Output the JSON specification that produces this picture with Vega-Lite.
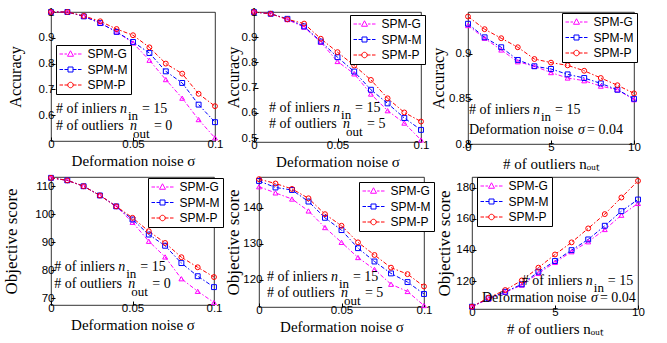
{
  "$schema": "https://vega.github.io/schema/vega-lite/v6.json",
  "padding": {"left": 2, "top": 5, "right": 2, "bottom": 2},
  "background": "white",
  "config": {
    "view": {"stroke": "black", "strokeWidth": 0.8},
    "axis": {"grid": false, "domain": false, "tickColor": "black", "tickSize": -4, "labelPadding": 1, "labelFont": "Liberation Sans", "labelFontSize": 11.5, "labelColor": "black", "titleFont": "Liberation Serif", "titleFontWeight": "normal", "titleColor": "black", "titleFontSize": 15, "labelFlush": false, "labelOverlap": false, "labelBound": false},
    "axisX": {"titlePadding": 4},
    "legend": {"symbolSize": 100, "rowPadding": 3.5, "symbolOffset": 5.5, "labelOffset": 11, "padding": 3, "labelFont": "Liberation Sans", "labelFontSize": 12, "labelColor": "black", "strokeColor": "black", "fillColor": "white", "cornerRadius": 0},
    "text": {"font": "Liberation Serif", "fontSize": 14, "align": "left", "baseline": "alphabetic", "color": "black"}
  },
  "datasets": {
    "one": [{}],
    "acc0": [
      {"x":0,"m":"SPM-G","v":1.0},{"x":0.01,"m":"SPM-G","v":1.0},{"x":0.02,"m":"SPM-G","v":0.983},{"x":0.03,"m":"SPM-G","v":0.957},{"x":0.04,"m":"SPM-G","v":0.923},{"x":0.05,"m":"SPM-G","v":0.88},{"x":0.06,"m":"SPM-G","v":0.813},{"x":0.07,"m":"SPM-G","v":0.738},{"x":0.08,"m":"SPM-G","v":0.666},{"x":0.09,"m":"SPM-G","v":0.583},{"x":0.1,"m":"SPM-G","v":0.512},
      {"x":0,"m":"SPM-M","v":1.0},{"x":0.01,"m":"SPM-M","v":1.0},{"x":0.02,"m":"SPM-M","v":0.983},{"x":0.03,"m":"SPM-M","v":0.957},{"x":0.04,"m":"SPM-M","v":0.923},{"x":0.05,"m":"SPM-M","v":0.884},{"x":0.06,"m":"SPM-M","v":0.841},{"x":0.07,"m":"SPM-M","v":0.77},{"x":0.08,"m":"SPM-M","v":0.725},{"x":0.09,"m":"SPM-M","v":0.641},{"x":0.1,"m":"SPM-M","v":0.573},
      {"x":0,"m":"SPM-P","v":1.0},{"x":0.01,"m":"SPM-P","v":1.0},{"x":0.02,"m":"SPM-P","v":0.985},{"x":0.03,"m":"SPM-P","v":0.964},{"x":0.04,"m":"SPM-P","v":0.934},{"x":0.05,"m":"SPM-P","v":0.91},{"x":0.06,"m":"SPM-P","v":0.863},{"x":0.07,"m":"SPM-P","v":0.8},{"x":0.08,"m":"SPM-P","v":0.761},{"x":0.09,"m":"SPM-P","v":0.683},{"x":0.1,"m":"SPM-P","v":0.635}
    ],
    "acc5": [
      {"x":0,"m":"SPM-G","v":1.0},{"x":0.01,"m":"SPM-G","v":0.993},{"x":0.02,"m":"SPM-G","v":0.97},{"x":0.03,"m":"SPM-G","v":0.94},{"x":0.04,"m":"SPM-G","v":0.88},{"x":0.05,"m":"SPM-G","v":0.804},{"x":0.06,"m":"SPM-G","v":0.755},{"x":0.07,"m":"SPM-G","v":0.675},{"x":0.08,"m":"SPM-G","v":0.609},{"x":0.09,"m":"SPM-G","v":0.56},{"x":0.1,"m":"SPM-G","v":0.493},
      {"x":0,"m":"SPM-M","v":1.0},{"x":0.01,"m":"SPM-M","v":0.993},{"x":0.02,"m":"SPM-M","v":0.973},{"x":0.03,"m":"SPM-M","v":0.943},{"x":0.04,"m":"SPM-M","v":0.883},{"x":0.05,"m":"SPM-M","v":0.821},{"x":0.06,"m":"SPM-M","v":0.764},{"x":0.07,"m":"SPM-M","v":0.692},{"x":0.08,"m":"SPM-M","v":0.638},{"x":0.09,"m":"SPM-M","v":0.58},{"x":0.1,"m":"SPM-M","v":0.533},
      {"x":0,"m":"SPM-P","v":1.0},{"x":0.01,"m":"SPM-P","v":0.993},{"x":0.02,"m":"SPM-P","v":0.971},{"x":0.03,"m":"SPM-P","v":0.954},{"x":0.04,"m":"SPM-P","v":0.894},{"x":0.05,"m":"SPM-P","v":0.841},{"x":0.06,"m":"SPM-P","v":0.788},{"x":0.07,"m":"SPM-P","v":0.731},{"x":0.08,"m":"SPM-P","v":0.658},{"x":0.09,"m":"SPM-P","v":0.602},{"x":0.1,"m":"SPM-P","v":0.566}
    ],
    "accOut": [
      {"x":0,"m":"SPM-G","v":0.931},{"x":1,"m":"SPM-G","v":0.917},{"x":2,"m":"SPM-G","v":0.904},{"x":3,"m":"SPM-G","v":0.891},{"x":4,"m":"SPM-G","v":0.886},{"x":5,"m":"SPM-G","v":0.879},{"x":6,"m":"SPM-G","v":0.873},{"x":7,"m":"SPM-G","v":0.870},{"x":8,"m":"SPM-G","v":0.864},{"x":9,"m":"SPM-G","v":0.860},{"x":10,"m":"SPM-G","v":0.849},
      {"x":0,"m":"SPM-M","v":0.933},{"x":1,"m":"SPM-M","v":0.918},{"x":2,"m":"SPM-M","v":0.907},{"x":3,"m":"SPM-M","v":0.893},{"x":4,"m":"SPM-M","v":0.886},{"x":5,"m":"SPM-M","v":0.883},{"x":6,"m":"SPM-M","v":0.877},{"x":7,"m":"SPM-M","v":0.873},{"x":8,"m":"SPM-M","v":0.867},{"x":9,"m":"SPM-M","v":0.860},{"x":10,"m":"SPM-M","v":0.850},
      {"x":0,"m":"SPM-P","v":0.941},{"x":1,"m":"SPM-P","v":0.927},{"x":2,"m":"SPM-P","v":0.917},{"x":3,"m":"SPM-P","v":0.907},{"x":4,"m":"SPM-P","v":0.894},{"x":5,"m":"SPM-P","v":0.890},{"x":6,"m":"SPM-P","v":0.887},{"x":7,"m":"SPM-P","v":0.881},{"x":8,"m":"SPM-P","v":0.873},{"x":9,"m":"SPM-P","v":0.865},{"x":10,"m":"SPM-P","v":0.856}
    ],
    "obj0": [
      {"x":0,"m":"SPM-G","v":113},{"x":0.01,"m":"SPM-G","v":112.1},{"x":0.02,"m":"SPM-G","v":110},{"x":0.03,"m":"SPM-G","v":106.7},{"x":0.04,"m":"SPM-G","v":102.8},{"x":0.05,"m":"SPM-G","v":97.1},{"x":0.06,"m":"SPM-G","v":90.3},{"x":0.07,"m":"SPM-G","v":84.7},{"x":0.08,"m":"SPM-G","v":76.9},{"x":0.09,"m":"SPM-G","v":72.4},{"x":0.1,"m":"SPM-G","v":68.4},
      {"x":0,"m":"SPM-M","v":113},{"x":0.01,"m":"SPM-M","v":112.1},{"x":0.02,"m":"SPM-M","v":110},{"x":0.03,"m":"SPM-M","v":106.7},{"x":0.04,"m":"SPM-M","v":102.8},{"x":0.05,"m":"SPM-M","v":98.1},{"x":0.06,"m":"SPM-M","v":92.7},{"x":0.07,"m":"SPM-M","v":88.7},{"x":0.08,"m":"SPM-M","v":82.5},{"x":0.09,"m":"SPM-M","v":77.8},{"x":0.1,"m":"SPM-M","v":73.9},
      {"x":0,"m":"SPM-P","v":113},{"x":0.01,"m":"SPM-P","v":112.1},{"x":0.02,"m":"SPM-P","v":110},{"x":0.03,"m":"SPM-P","v":106.7},{"x":0.04,"m":"SPM-P","v":102.8},{"x":0.05,"m":"SPM-P","v":98.7},{"x":0.06,"m":"SPM-P","v":93.9},{"x":0.07,"m":"SPM-P","v":89.7},{"x":0.08,"m":"SPM-P","v":84.6},{"x":0.09,"m":"SPM-P","v":81.0},{"x":0.1,"m":"SPM-P","v":77.5}
    ],
    "obj5": [
      {"x":0,"m":"SPM-G","v":145.8},{"x":0.01,"m":"SPM-G","v":144.1},{"x":0.02,"m":"SPM-G","v":142.4},{"x":0.03,"m":"SPM-G","v":139.1},{"x":0.04,"m":"SPM-G","v":134.5},{"x":0.05,"m":"SPM-G","v":130.4},{"x":0.06,"m":"SPM-G","v":126.2},{"x":0.07,"m":"SPM-G","v":122.9},{"x":0.08,"m":"SPM-G","v":118.8},{"x":0.09,"m":"SPM-G","v":116.8},{"x":0.1,"m":"SPM-G","v":112.9},
      {"x":0,"m":"SPM-M","v":147.4},{"x":0.01,"m":"SPM-M","v":145.6},{"x":0.02,"m":"SPM-M","v":144.9},{"x":0.03,"m":"SPM-M","v":141.7},{"x":0.04,"m":"SPM-M","v":137.2},{"x":0.05,"m":"SPM-M","v":133.8},{"x":0.06,"m":"SPM-M","v":128.8},{"x":0.07,"m":"SPM-M","v":125.1},{"x":0.08,"m":"SPM-M","v":121.8},{"x":0.09,"m":"SPM-M","v":119.4},{"x":0.1,"m":"SPM-M","v":116.1},
      {"x":0,"m":"SPM-P","v":147.9},{"x":0.01,"m":"SPM-P","v":146.7},{"x":0.02,"m":"SPM-P","v":145.2},{"x":0.03,"m":"SPM-P","v":142.6},{"x":0.04,"m":"SPM-P","v":138.2},{"x":0.05,"m":"SPM-P","v":135.0},{"x":0.06,"m":"SPM-P","v":130.4},{"x":0.07,"m":"SPM-P","v":126.9},{"x":0.08,"m":"SPM-P","v":123.4},{"x":0.09,"m":"SPM-P","v":121.6},{"x":0.1,"m":"SPM-P","v":118.2}
    ],
    "objOut": [
      {"x":0,"m":"SPM-G","v":103.5},{"x":1,"m":"SPM-G","v":108.4},{"x":2,"m":"SPM-G","v":112.7},{"x":3,"m":"SPM-G","v":117.4},{"x":4,"m":"SPM-G","v":124.9},{"x":5,"m":"SPM-G","v":132.0},{"x":6,"m":"SPM-G","v":138.9},{"x":7,"m":"SPM-G","v":145.3},{"x":8,"m":"SPM-G","v":153.2},{"x":9,"m":"SPM-G","v":162.4},{"x":10,"m":"SPM-G","v":170.0},
      {"x":0,"m":"SPM-M","v":103.5},{"x":1,"m":"SPM-M","v":108.9},{"x":2,"m":"SPM-M","v":113.1},{"x":3,"m":"SPM-M","v":117.9},{"x":4,"m":"SPM-M","v":126.0},{"x":5,"m":"SPM-M","v":132.9},{"x":6,"m":"SPM-M","v":139.9},{"x":7,"m":"SPM-M","v":146.8},{"x":8,"m":"SPM-M","v":155.6},{"x":9,"m":"SPM-M","v":165.0},{"x":10,"m":"SPM-M","v":172.5},
      {"x":0,"m":"SPM-P","v":103.5},{"x":1,"m":"SPM-P","v":109.3},{"x":2,"m":"SPM-P","v":114.2},{"x":3,"m":"SPM-P","v":120.4},{"x":4,"m":"SPM-P","v":128.6},{"x":5,"m":"SPM-P","v":137.1},{"x":6,"m":"SPM-P","v":144.9},{"x":7,"m":"SPM-P","v":153.9},{"x":8,"m":"SPM-P","v":163.1},{"x":9,"m":"SPM-P","v":173.8},{"x":10,"m":"SPM-P","v":184.5}
    ]
  },
  "spacing": 0,
  "resolve": {"scale": {"x": "independent", "y": "independent", "color": "independent"}, "legend": {"color": "independent"}},
  "vconcat": [
    {
      "spacing": 0,
      "resolve": {"scale": {"x": "independent", "y": "independent", "color": "independent"}, "legend": {"color": "independent"}},
      "hconcat": [
        {
          "width": 164, "height": 129,
          "data": {"name": "acc0"},
          "layer": [
            {"mark": {"type": "line", "strokeWidth": 1, "strokeDash": [4, 2, 1.5, 2]},
             "encoding": {
               "x": {"field": "x", "type": "quantitative", "scale": {"domain": [0, 0.1], "nice": false, "zero": false}, "axis": {"title": "Deformation noise σ", "values": [0, 0.05, 0.1], "tickCount": 20, "labelExpr": "'' + datum.value", "labelOverlap": false}},
               "y": {"field": "v", "type": "quantitative", "scale": {"domain": [0.5, 1], "nice": false, "zero": false}, "axis": {"title": "Accuracy", "titleFontSize": 16, "titlePadding": 15, "values": [0.6, 0.7, 0.8, 0.9, 1], "tickCount": 20, "labelExpr": "'' + datum.value", "labelOverlap": false}},
               "color": {"field": "m", "type": "nominal", "scale": {"domain": ["SPM-G", "SPM-M", "SPM-P"], "range": ["#FF00FF", "#0000FF", "#FF0000"]},
                 "legend": {"orient": "none", "legendX": 5, "legendY": 33, "title": null, "encode": {"symbols": {"update": {"shape": {"signal": "datum.value==='SPM-G'?'M-2.2,0H-1.5M-1.2,0H-0.7M0.7,0H1.2M1.5,0H2.2M0,-0.65L0.6,0.45H-0.6Z':datum.value==='SPM-M'?'M-2.2,0H-1.5M-1.2,0H-0.5M0.5,0H1.2M1.5,0H2.2M-0.5,-0.5H0.5V0.5H-0.5Z':'M-2.2,0H-1.5M-1.2,0H-0.55M0.55,0H1.2M1.5,0H2.2M-0.55,0A0.55,0.55,0,1,0,0.55,0A0.55,0.55,0,1,0,-0.55,0'"}, "size": {"value": 100}, "fill": {"value": "transparent"}, "strokeWidth": {"value": 1}, "strokeDash": {"value": []}}}}}}
             }},
            {"transform": [{"filter": "datum.m === 'SPM-G'"}], "mark": {"type": "point", "shape": "triangle-up", "filled": false, "size": 24, "strokeWidth": 1, "opacity": 1, "color": "#FF00FF"}, "encoding": {"x": {"field": "x", "type": "quantitative"}, "y": {"field": "v", "type": "quantitative"}}},
            {"transform": [{"filter": "datum.m === 'SPM-M'"}], "mark": {"type": "point", "shape": "square", "filled": false, "size": 24, "strokeWidth": 1, "opacity": 1, "color": "#0000FF"}, "encoding": {"x": {"field": "x", "type": "quantitative"}, "y": {"field": "v", "type": "quantitative"}}},
            {"transform": [{"filter": "datum.m === 'SPM-P'"}], "mark": {"type": "point", "shape": "circle", "filled": false, "size": 24, "strokeWidth": 1, "opacity": 1, "color": "#FF0000"}, "encoding": {"x": {"field": "x", "type": "quantitative"}, "y": {"field": "v", "type": "quantitative"}}},
            {"data": {"name": "one"}, "mark": {"type": "text", "text": "# of inliers"}, "encoding": {"x": {"datum": 0.003}, "y": {"datum": 0.6085}}},
            {"data": {"name": "one"}, "mark": {"type": "text", "text": "n", "fontStyle": "italic", "dx": 64}, "encoding": {"x": {"datum": 0.003}, "y": {"datum": 0.6085}}},
            {"data": {"name": "one"}, "mark": {"type": "text", "text": "in", "fontSize": 13, "dx": 72, "dy": 7}, "encoding": {"x": {"datum": 0.003}, "y": {"datum": 0.6085}}},
            {"data": {"name": "one"}, "mark": {"type": "text", "text": "= 15", "dx": 86}, "encoding": {"x": {"datum": 0.003}, "y": {"datum": 0.6085}}},
            {"data": {"name": "one"}, "mark": {"type": "text", "text": "# of outliers"}, "encoding": {"x": {"datum": 0.003}, "y": {"datum": 0.543}}},
            {"data": {"name": "one"}, "mark": {"type": "text", "text": "n", "fontStyle": "italic", "dx": 74}, "encoding": {"x": {"datum": 0.003}, "y": {"datum": 0.543}}},
            {"data": {"name": "one"}, "mark": {"type": "text", "text": "out", "fontSize": 13, "dx": 77, "dy": 8}, "encoding": {"x": {"datum": 0.003}, "y": {"datum": 0.543}}},
            {"data": {"name": "one"}, "mark": {"type": "text", "text": "= 0", "dx": 98}, "encoding": {"x": {"datum": 0.003}, "y": {"datum": 0.543}}}
          ]
        },
        {
          "width": 167, "height": 130,
          "data": {"name": "acc5"},
          "layer": [
            {"mark": {"type": "line", "strokeWidth": 1, "strokeDash": [4, 2, 1.5, 2]},
             "encoding": {
               "x": {"field": "x", "type": "quantitative", "scale": {"domain": [0, 0.1], "nice": false, "zero": false}, "axis": {"title": "Deformation noise σ", "values": [0, 0.05, 0.1], "tickCount": 20, "labelExpr": "'' + datum.value", "labelOverlap": false}},
               "y": {"field": "v", "type": "quantitative", "scale": {"domain": [0.485, 1], "nice": false, "zero": false}, "axis": {"title": "Accuracy", "titleFontSize": 16, "titlePadding": 0, "values": [0.5, 0.6, 0.7, 0.8, 0.9, 1], "tickCount": 20, "labelExpr": "'' + datum.value", "labelOverlap": false}},
               "color": {"field": "m", "type": "nominal", "scale": {"domain": ["SPM-G", "SPM-M", "SPM-P"], "range": ["#FF00FF", "#0000FF", "#FF0000"]},
                 "legend": {"orient": "none", "legendX": 96, "legendY": 3, "title": null, "encode": {"symbols": {"update": {"shape": {"signal": "datum.value==='SPM-G'?'M-2.2,0H-1.5M-1.2,0H-0.7M0.7,0H1.2M1.5,0H2.2M0,-0.65L0.6,0.45H-0.6Z':datum.value==='SPM-M'?'M-2.2,0H-1.5M-1.2,0H-0.5M0.5,0H1.2M1.5,0H2.2M-0.5,-0.5H0.5V0.5H-0.5Z':'M-2.2,0H-1.5M-1.2,0H-0.55M0.55,0H1.2M1.5,0H2.2M-0.55,0A0.55,0.55,0,1,0,0.55,0A0.55,0.55,0,1,0,-0.55,0'"}, "size": {"value": 100}, "fill": {"value": "transparent"}, "strokeWidth": {"value": 1}, "strokeDash": {"value": []}}}}}}
             }},
            {"transform": [{"filter": "datum.m === 'SPM-G'"}], "mark": {"type": "point", "shape": "triangle-up", "filled": false, "size": 24, "strokeWidth": 1, "opacity": 1, "color": "#FF00FF"}, "encoding": {"x": {"field": "x", "type": "quantitative"}, "y": {"field": "v", "type": "quantitative"}}},
            {"transform": [{"filter": "datum.m === 'SPM-M'"}], "mark": {"type": "point", "shape": "square", "filled": false, "size": 24, "strokeWidth": 1, "opacity": 1, "color": "#0000FF"}, "encoding": {"x": {"field": "x", "type": "quantitative"}, "y": {"field": "v", "type": "quantitative"}}},
            {"transform": [{"filter": "datum.m === 'SPM-P'"}], "mark": {"type": "point", "shape": "circle", "filled": false, "size": 24, "strokeWidth": 1, "opacity": 1, "color": "#FF0000"}, "encoding": {"x": {"field": "x", "type": "quantitative"}, "y": {"field": "v", "type": "quantitative"}}},
            {"data": {"name": "one"}, "mark": {"type": "text", "text": "# of inliers"}, "encoding": {"x": {"datum": 0.009}, "y": {"datum": 0.604}}},
            {"data": {"name": "one"}, "mark": {"type": "text", "text": "n", "fontStyle": "italic", "dx": 64}, "encoding": {"x": {"datum": 0.009}, "y": {"datum": 0.604}}},
            {"data": {"name": "one"}, "mark": {"type": "text", "text": "in", "fontSize": 13, "dx": 72, "dy": 7}, "encoding": {"x": {"datum": 0.009}, "y": {"datum": 0.604}}},
            {"data": {"name": "one"}, "mark": {"type": "text", "text": "= 15", "dx": 86}, "encoding": {"x": {"datum": 0.009}, "y": {"datum": 0.604}}},
            {"data": {"name": "one"}, "mark": {"type": "text", "text": "# of outliers"}, "encoding": {"x": {"datum": 0.009}, "y": {"datum": 0.54}}},
            {"data": {"name": "one"}, "mark": {"type": "text", "text": "n", "fontStyle": "italic", "dx": 74}, "encoding": {"x": {"datum": 0.009}, "y": {"datum": 0.54}}},
            {"data": {"name": "one"}, "mark": {"type": "text", "text": "out", "fontSize": 13, "dx": 77, "dy": 8}, "encoding": {"x": {"datum": 0.009}, "y": {"datum": 0.54}}},
            {"data": {"name": "one"}, "mark": {"type": "text", "text": "= 5", "dx": 98}, "encoding": {"x": {"datum": 0.009}, "y": {"datum": 0.54}}}
          ]
        },
        {
          "width": 166, "height": 132,
          "data": {"name": "accOut"},
          "layer": [
            {"mark": {"type": "line", "strokeWidth": 1, "strokeDash": [4, 2, 1.5, 2]},
             "encoding": {
               "x": {"field": "x", "type": "quantitative", "scale": {"domain": [0, 10], "nice": false, "zero": false}, "axis": {"title": "# of outliers nₒᵤₜ", "values": [0, 5, 10], "tickCount": 20, "labelExpr": "'' + datum.value", "labelOverlap": false}},
               "y": {"field": "v", "type": "quantitative", "scale": {"domain": [0.8, 0.946], "nice": false, "zero": false}, "axis": {"title": "Accuracy", "titleFontSize": 16, "titlePadding": 2, "values": [0.8, 0.85, 0.9], "tickCount": 20, "labelExpr": "'' + datum.value", "labelOverlap": false}},
               "color": {"field": "m", "type": "nominal", "scale": {"domain": ["SPM-G", "SPM-M", "SPM-P"], "range": ["#FF00FF", "#0000FF", "#FF0000"]},
                 "legend": {"orient": "none", "legendX": 94, "legendY": 1, "title": null, "encode": {"symbols": {"update": {"shape": {"signal": "datum.value==='SPM-G'?'M-2.2,0H-1.5M-1.2,0H-0.7M0.7,0H1.2M1.5,0H2.2M0,-0.65L0.6,0.45H-0.6Z':datum.value==='SPM-M'?'M-2.2,0H-1.5M-1.2,0H-0.5M0.5,0H1.2M1.5,0H2.2M-0.5,-0.5H0.5V0.5H-0.5Z':'M-2.2,0H-1.5M-1.2,0H-0.55M0.55,0H1.2M1.5,0H2.2M-0.55,0A0.55,0.55,0,1,0,0.55,0A0.55,0.55,0,1,0,-0.55,0'"}, "size": {"value": 100}, "fill": {"value": "transparent"}, "strokeWidth": {"value": 1}, "strokeDash": {"value": []}}}}}}
             }},
            {"transform": [{"filter": "datum.m === 'SPM-G'"}], "mark": {"type": "point", "shape": "triangle-up", "filled": false, "size": 24, "strokeWidth": 1, "opacity": 1, "color": "#FF00FF"}, "encoding": {"x": {"field": "x", "type": "quantitative"}, "y": {"field": "v", "type": "quantitative"}}},
            {"transform": [{"filter": "datum.m === 'SPM-M'"}], "mark": {"type": "point", "shape": "square", "filled": false, "size": 24, "strokeWidth": 1, "opacity": 1, "color": "#0000FF"}, "encoding": {"x": {"field": "x", "type": "quantitative"}, "y": {"field": "v", "type": "quantitative"}}},
            {"transform": [{"filter": "datum.m === 'SPM-P'"}], "mark": {"type": "point", "shape": "circle", "filled": false, "size": 24, "strokeWidth": 1, "opacity": 1, "color": "#FF0000"}, "encoding": {"x": {"field": "x", "type": "quantitative"}, "y": {"field": "v", "type": "quantitative"}}},
            {"data": {"name": "one"}, "mark": {"type": "text", "text": "# of inliers"}, "encoding": {"x": {"datum": 0.06}, "y": {"datum": 0.8332}}},
            {"data": {"name": "one"}, "mark": {"type": "text", "text": "n", "fontStyle": "italic", "dx": 64}, "encoding": {"x": {"datum": 0.06}, "y": {"datum": 0.8332}}},
            {"data": {"name": "one"}, "mark": {"type": "text", "text": "in", "fontSize": 13, "dx": 72, "dy": 7}, "encoding": {"x": {"datum": 0.06}, "y": {"datum": 0.8332}}},
            {"data": {"name": "one"}, "mark": {"type": "text", "text": "= 15", "dx": 86}, "encoding": {"x": {"datum": 0.06}, "y": {"datum": 0.8332}}},
            {"data": {"name": "one"}, "mark": {"type": "text", "text": "Deformation noise"}, "encoding": {"x": {"datum": 0.06}, "y": {"datum": 0.811}}},
            {"data": {"name": "one"}, "mark": {"type": "text", "text": "σ", "fontStyle": "italic", "dx": 109}, "encoding": {"x": {"datum": 0.06}, "y": {"datum": 0.811}}},
            {"data": {"name": "one"}, "mark": {"type": "text", "text": "= 0.04", "dx": 118}, "encoding": {"x": {"datum": 0.06}, "y": {"datum": 0.811}}}
          ]
        }
      ]
    },
    {
      "spacing": 0,
      "resolve": {"scale": {"x": "independent", "y": "independent", "color": "independent"}, "legend": {"color": "independent"}},
      "hconcat": [
        {
          "width": 163, "height": 128,
          "data": {"name": "obj0"},
          "layer": [
            {"mark": {"type": "line", "strokeWidth": 1, "strokeDash": [4, 2, 1.5, 2]},
             "encoding": {
               "x": {"field": "x", "type": "quantitative", "scale": {"domain": [0, 0.1], "nice": false, "zero": false}, "axis": {"title": "Deformation noise σ", "values": [0, 0.05, 0.1], "tickCount": 20, "labelExpr": "'' + datum.value", "labelOverlap": false}},
               "y": {"field": "v", "type": "quantitative", "scale": {"domain": [67.5, 113.3], "nice": false, "zero": false}, "axis": {"title": "Objective score", "titleFontSize": 17, "titlePadding": 14, "values": [70, 80, 90, 100, 110], "tickCount": 20, "labelExpr": "'' + datum.value", "labelOverlap": false}},
               "color": {"field": "m", "type": "nominal", "scale": {"domain": ["SPM-G", "SPM-M", "SPM-P"], "range": ["#FF00FF", "#0000FF", "#FF0000"]},
                 "legend": {"orient": "none", "legendX": 97, "legendY": 1, "title": null, "encode": {"symbols": {"update": {"shape": {"signal": "datum.value==='SPM-G'?'M-2.2,0H-1.5M-1.2,0H-0.7M0.7,0H1.2M1.5,0H2.2M0,-0.65L0.6,0.45H-0.6Z':datum.value==='SPM-M'?'M-2.2,0H-1.5M-1.2,0H-0.5M0.5,0H1.2M1.5,0H2.2M-0.5,-0.5H0.5V0.5H-0.5Z':'M-2.2,0H-1.5M-1.2,0H-0.55M0.55,0H1.2M1.5,0H2.2M-0.55,0A0.55,0.55,0,1,0,0.55,0A0.55,0.55,0,1,0,-0.55,0'"}, "size": {"value": 100}, "fill": {"value": "transparent"}, "strokeWidth": {"value": 1}, "strokeDash": {"value": []}}}}}}
             }},
            {"transform": [{"filter": "datum.m === 'SPM-G'"}], "mark": {"type": "point", "shape": "triangle-up", "filled": false, "size": 24, "strokeWidth": 1, "opacity": 1, "color": "#FF00FF"}, "encoding": {"x": {"field": "x", "type": "quantitative"}, "y": {"field": "v", "type": "quantitative"}}},
            {"transform": [{"filter": "datum.m === 'SPM-M'"}], "mark": {"type": "point", "shape": "square", "filled": false, "size": 24, "strokeWidth": 1, "opacity": 1, "color": "#0000FF"}, "encoding": {"x": {"field": "x", "type": "quantitative"}, "y": {"field": "v", "type": "quantitative"}}},
            {"transform": [{"filter": "datum.m === 'SPM-P'"}], "mark": {"type": "point", "shape": "circle", "filled": false, "size": 24, "strokeWidth": 1, "opacity": 1, "color": "#FF0000"}, "encoding": {"x": {"field": "x", "type": "quantitative"}, "y": {"field": "v", "type": "quantitative"}}},
            {"data": {"name": "one"}, "mark": {"type": "text", "text": "# of inliers"}, "encoding": {"x": {"datum": 0.002}, "y": {"datum": 79.6}}},
            {"data": {"name": "one"}, "mark": {"type": "text", "text": "n", "fontStyle": "italic", "dx": 64}, "encoding": {"x": {"datum": 0.002}, "y": {"datum": 79.6}}},
            {"data": {"name": "one"}, "mark": {"type": "text", "text": "in", "fontSize": 13, "dx": 72, "dy": 7}, "encoding": {"x": {"datum": 0.002}, "y": {"datum": 79.6}}},
            {"data": {"name": "one"}, "mark": {"type": "text", "text": "= 15", "dx": 86}, "encoding": {"x": {"datum": 0.002}, "y": {"datum": 79.6}}},
            {"data": {"name": "one"}, "mark": {"type": "text", "text": "# of outliers"}, "encoding": {"x": {"datum": 0.002}, "y": {"datum": 73.5}}},
            {"data": {"name": "one"}, "mark": {"type": "text", "text": "n", "fontStyle": "italic", "dx": 74}, "encoding": {"x": {"datum": 0.002}, "y": {"datum": 73.5}}},
            {"data": {"name": "one"}, "mark": {"type": "text", "text": "out", "fontSize": 13, "dx": 77, "dy": 8}, "encoding": {"x": {"datum": 0.002}, "y": {"datum": 73.5}}},
            {"data": {"name": "one"}, "mark": {"type": "text", "text": "= 0", "dx": 98}, "encoding": {"x": {"datum": 0.002}, "y": {"datum": 73.5}}}
          ]
        },
        {
          "width": 165, "height": 130,
          "data": {"name": "obj5"},
          "layer": [
            {"mark": {"type": "line", "strokeWidth": 1, "strokeDash": [4, 2, 1.5, 2]},
             "encoding": {
               "x": {"field": "x", "type": "quantitative", "scale": {"domain": [0, 0.1], "nice": false, "zero": false}, "axis": {"title": "Deformation noise σ", "values": [0, 0.05, 0.1], "tickCount": 20, "labelExpr": "'' + datum.value", "labelOverlap": false}},
               "y": {"field": "v", "type": "quantitative", "scale": {"domain": [112.5, 148.5], "nice": false, "zero": false}, "axis": {"title": "Objective score", "titleFontSize": 17, "titlePadding": 0, "values": [120, 130, 140], "tickCount": 20, "labelExpr": "'' + datum.value", "labelOverlap": false}},
               "color": {"field": "m", "type": "nominal", "scale": {"domain": ["SPM-G", "SPM-M", "SPM-P"], "range": ["#FF00FF", "#0000FF", "#FF0000"]},
                 "legend": {"orient": "none", "legendX": 100, "legendY": 5, "title": null, "encode": {"symbols": {"update": {"shape": {"signal": "datum.value==='SPM-G'?'M-2.2,0H-1.5M-1.2,0H-0.7M0.7,0H1.2M1.5,0H2.2M0,-0.65L0.6,0.45H-0.6Z':datum.value==='SPM-M'?'M-2.2,0H-1.5M-1.2,0H-0.5M0.5,0H1.2M1.5,0H2.2M-0.5,-0.5H0.5V0.5H-0.5Z':'M-2.2,0H-1.5M-1.2,0H-0.55M0.55,0H1.2M1.5,0H2.2M-0.55,0A0.55,0.55,0,1,0,0.55,0A0.55,0.55,0,1,0,-0.55,0'"}, "size": {"value": 100}, "fill": {"value": "transparent"}, "strokeWidth": {"value": 1}, "strokeDash": {"value": []}}}}}}
             }},
            {"transform": [{"filter": "datum.m === 'SPM-G'"}], "mark": {"type": "point", "shape": "triangle-up", "filled": false, "size": 24, "strokeWidth": 1, "opacity": 1, "color": "#FF00FF"}, "encoding": {"x": {"field": "x", "type": "quantitative"}, "y": {"field": "v", "type": "quantitative"}}},
            {"transform": [{"filter": "datum.m === 'SPM-M'"}], "mark": {"type": "point", "shape": "square", "filled": false, "size": 24, "strokeWidth": 1, "opacity": 1, "color": "#0000FF"}, "encoding": {"x": {"field": "x", "type": "quantitative"}, "y": {"field": "v", "type": "quantitative"}}},
            {"transform": [{"filter": "datum.m === 'SPM-P'"}], "mark": {"type": "point", "shape": "circle", "filled": false, "size": 24, "strokeWidth": 1, "opacity": 1, "color": "#FF0000"}, "encoding": {"x": {"field": "x", "type": "quantitative"}, "y": {"field": "v", "type": "quantitative"}}},
            {"data": {"name": "one"}, "mark": {"type": "text", "text": "# of inliers"}, "encoding": {"x": {"datum": 0.0048}, "y": {"datum": 119.8}}},
            {"data": {"name": "one"}, "mark": {"type": "text", "text": "n", "fontStyle": "italic", "dx": 64}, "encoding": {"x": {"datum": 0.0048}, "y": {"datum": 119.8}}},
            {"data": {"name": "one"}, "mark": {"type": "text", "text": "in", "fontSize": 13, "dx": 72, "dy": 7}, "encoding": {"x": {"datum": 0.0048}, "y": {"datum": 119.8}}},
            {"data": {"name": "one"}, "mark": {"type": "text", "text": "= 15", "dx": 86}, "encoding": {"x": {"datum": 0.0048}, "y": {"datum": 119.8}}},
            {"data": {"name": "one"}, "mark": {"type": "text", "text": "# of outliers"}, "encoding": {"x": {"datum": 0.0048}, "y": {"datum": 115.3}}},
            {"data": {"name": "one"}, "mark": {"type": "text", "text": "n", "fontStyle": "italic", "dx": 74}, "encoding": {"x": {"datum": 0.0048}, "y": {"datum": 115.3}}},
            {"data": {"name": "one"}, "mark": {"type": "text", "text": "out", "fontSize": 13, "dx": 77, "dy": 8}, "encoding": {"x": {"datum": 0.0048}, "y": {"datum": 115.3}}},
            {"data": {"name": "one"}, "mark": {"type": "text", "text": "= 5", "dx": 98}, "encoding": {"x": {"datum": 0.0048}, "y": {"datum": 115.3}}}
          ]
        },
        {
          "width": 166, "height": 132,
          "data": {"name": "objOut"},
          "layer": [
            {"mark": {"type": "line", "strokeWidth": 1, "strokeDash": [4, 2, 1.5, 2]},
             "encoding": {
               "x": {"field": "x", "type": "quantitative", "scale": {"domain": [0, 10], "nice": false, "zero": false}, "axis": {"title": "# of outliers nₒᵤₜ", "values": [0, 5, 10], "tickCount": 20, "labelExpr": "'' + datum.value", "labelOverlap": false}},
               "y": {"field": "v", "type": "quantitative", "scale": {"domain": [102, 187], "nice": false, "zero": false}, "axis": {"title": "Objective score", "titleFontSize": 17, "titlePadding": 2, "values": [120, 140, 160, 180], "tickCount": 20, "labelExpr": "'' + datum.value", "labelOverlap": false}},
               "color": {"field": "m", "type": "nominal", "scale": {"domain": ["SPM-G", "SPM-M", "SPM-P"], "range": ["#FF00FF", "#0000FF", "#FF0000"]},
                 "legend": {"orient": "none", "legendX": 5, "legendY": 0, "title": null, "encode": {"symbols": {"update": {"shape": {"signal": "datum.value==='SPM-G'?'M-2.2,0H-1.5M-1.2,0H-0.7M0.7,0H1.2M1.5,0H2.2M0,-0.65L0.6,0.45H-0.6Z':datum.value==='SPM-M'?'M-2.2,0H-1.5M-1.2,0H-0.5M0.5,0H1.2M1.5,0H2.2M-0.5,-0.5H0.5V0.5H-0.5Z':'M-2.2,0H-1.5M-1.2,0H-0.55M0.55,0H1.2M1.5,0H2.2M-0.55,0A0.55,0.55,0,1,0,0.55,0A0.55,0.55,0,1,0,-0.55,0'"}, "size": {"value": 100}, "fill": {"value": "transparent"}, "strokeWidth": {"value": 1}, "strokeDash": {"value": []}}}}}}
             }},
            {"transform": [{"filter": "datum.m === 'SPM-G'"}], "mark": {"type": "point", "shape": "triangle-up", "filled": false, "size": 24, "strokeWidth": 1, "opacity": 1, "color": "#FF00FF"}, "encoding": {"x": {"field": "x", "type": "quantitative"}, "y": {"field": "v", "type": "quantitative"}}},
            {"transform": [{"filter": "datum.m === 'SPM-M'"}], "mark": {"type": "point", "shape": "square", "filled": false, "size": 24, "strokeWidth": 1, "opacity": 1, "color": "#0000FF"}, "encoding": {"x": {"field": "x", "type": "quantitative"}, "y": {"field": "v", "type": "quantitative"}}},
            {"transform": [{"filter": "datum.m === 'SPM-P'"}], "mark": {"type": "point", "shape": "circle", "filled": false, "size": 24, "strokeWidth": 1, "opacity": 1, "color": "#FF0000"}, "encoding": {"x": {"field": "x", "type": "quantitative"}, "y": {"field": "v", "type": "quantitative"}}},
            {"data": {"name": "one"}, "mark": {"type": "text", "text": "# of inliers"}, "encoding": {"x": {"datum": 3.0}, "y": {"datum": 117.4}}},
            {"data": {"name": "one"}, "mark": {"type": "text", "text": "n", "fontStyle": "italic", "dx": 64}, "encoding": {"x": {"datum": 3.0}, "y": {"datum": 117.4}}},
            {"data": {"name": "one"}, "mark": {"type": "text", "text": "in", "fontSize": 13, "dx": 72, "dy": 7}, "encoding": {"x": {"datum": 3.0}, "y": {"datum": 117.4}}},
            {"data": {"name": "one"}, "mark": {"type": "text", "text": "= 15", "dx": 86}, "encoding": {"x": {"datum": 3.0}, "y": {"datum": 117.4}}},
            {"data": {"name": "one"}, "mark": {"type": "text", "text": "Deformation noise"}, "encoding": {"x": {"datum": 0.6}, "y": {"datum": 106.5}}},
            {"data": {"name": "one"}, "mark": {"type": "text", "text": "σ", "fontStyle": "italic", "dx": 109}, "encoding": {"x": {"datum": 0.6}, "y": {"datum": 106.5}}},
            {"data": {"name": "one"}, "mark": {"type": "text", "text": "= 0.04", "dx": 118}, "encoding": {"x": {"datum": 0.6}, "y": {"datum": 106.5}}}
          ]
        }
      ]
    }
  ]
}
